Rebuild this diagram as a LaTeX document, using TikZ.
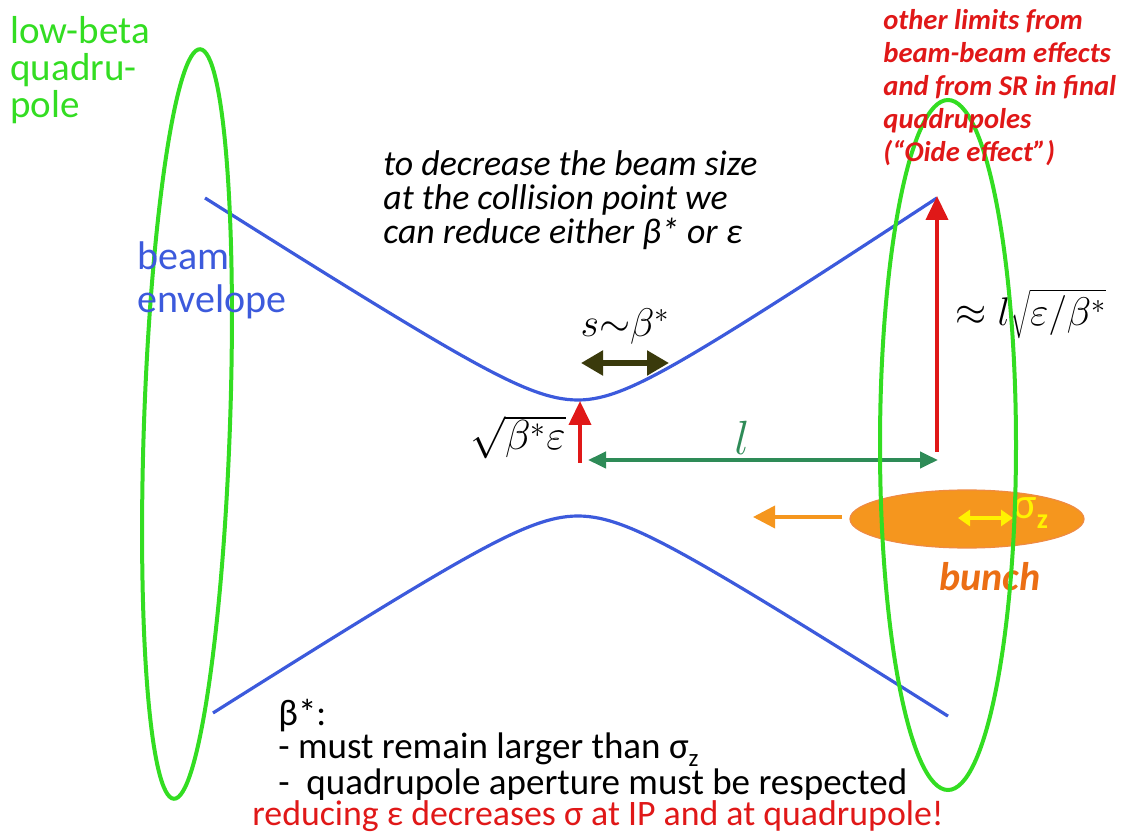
\RequirePackage{fix-cm}
\documentclass[tikz,border=0pt]{standalone}
\usepackage{fontspec}
\setmainfont{Carlito}
\usetikzlibrary{arrows.meta}
\definecolor{quadgreen}{HTML}{33DD22}
\definecolor{envblue}{HTML}{3C5ADC}
\definecolor{limred}{HTML}{E01818}
\definecolor{lgreen}{HTML}{2E8B57}
\definecolor{sizeolive}{HTML}{3A3A0C}
\definecolor{bunchorange}{HTML}{F5961E}
\definecolor{bunchdark}{HTML}{EB6E14}
\definecolor{sigyellow}{HTML}{FFF200}

\tikzset{
  quadline/.style={quadgreen, line width=2pt},
  envelope/.style={envblue, line width=1.6pt},
  redarrow/.style={-{Triangle[length=12pt,width=11pt]}, limred, line width=2pt},
  txt/.style={inner sep=0pt, anchor=north west, align=left}
}

\begin{document}
\begin{tikzpicture}[x=0.5pt, y=-0.5pt]
\useasboundingbox (0,0) rectangle (1126,834);

% bunch
\draw[fill=bunchorange, draw=bunchdark!80, line width=0.6pt] (967,519) ellipse [x radius=117, y radius=29];
\coordinate (bunchtail) at (842,517);
\coordinate (bunchhead) at (753,517);
\draw[-{Triangle[length=11pt,width=11pt]}, bunchorange, line width=1.8pt] (bunchtail) -- (bunchhead);
\coordinate (sza) at (958,518);
\coordinate (szb) at (1013,518);
\draw[{Triangle[length=6pt,width=8pt]}-{Triangle[length=6pt,width=8pt]}, sigyellow, line width=2pt] (sza) -- (szb);
\node[inner sep=0pt, anchor=west, sigyellow, font=\fontsize{22}{22}\selectfont] (sigz) at (1013,513) {σ\raisebox{-0.45ex}{\fontsize{14}{14}\selectfont\bfseries z}};
\node[inner sep=0pt, anchor=base, bunchdark, font=\fontsize{20}{22}\selectfont\bfseries\itshape] (bunch) at (990,590) {bunch};

% beam envelope
\draw[envelope] plot[domain=205:578, samples=70] (\x, {440-10*sqrt(16+(0.064*(\x-578))^2)})
  -- plot[domain=578:937, samples=70] (\x, {440-10*sqrt(16+(0.0665*(\x-578))^2)});
\draw[envelope] plot[domain=213:578, samples=70] (\x, {476+10*sqrt(16+(0.064*(\x-578))^2)})
  -- plot[domain=578:948, samples=70] (\x, {476+10*sqrt(16+(0.064*(\x-578))^2)});

% sizes at IP and at the quadrupole
\coordinate (ipbot) at (580,463);
\coordinate (iptop) at (580,401);
\draw[redarrow] (ipbot) -- (iptop);
\coordinate (qbot) at (937,452);
\coordinate (qtop) at (937,196);
\draw[redarrow] (qbot) -- (qtop);
\coordinate (lleft) at (588,460);
\coordinate (lright) at (938,460);
\draw[{Triangle[length=9pt,width=8pt]}-{Triangle[length=9pt,width=8pt]}, lgreen, line width=2pt] (lleft) -- (lright);
\coordinate (sleft) at (581,363);
\coordinate (sright) at (669,363);
\draw[{Triangle[length=11pt,width=12pt]}-{Triangle[length=11pt,width=12pt]}, sizeolive, line width=2.6pt] (sleft) -- (sright);

\node[inner sep=0pt, lgreen, font=\fontsize{24}{26}\selectfont] (lab-l) at (742,438) {$l$};
\node[inner sep=0pt, font=\fontsize{20}{22}\selectfont] (lab-s) at (625,327) {$s{\sim}\beta^{*}$};
\node[inner sep=0pt, anchor=east, font=\fontsize{21}{24}\selectfont] (lab-ip) at (566,437) {$\sqrt{\beta^{*}\varepsilon}$};
\node[inner sep=0pt, anchor=west, font=\fontsize{20}{24}\selectfont] (lab-q) at (955,314) {$\approx l\sqrt{\varepsilon/\beta^{*}}$};

% quadrupoles
\draw[quadline, rotate around={-2:(187,424)}] (187,424) ellipse [x radius=43, y radius=375];
\draw[quadline] (948,445) ellipse [x radius=68, y radius=345];

% texts
\node[txt, quadgreen, font=\fontsize{19.5}{18.5}\selectfont] (quadtxt) at (10,16) {low-beta\\quadru-\\pole};
\node[txt, envblue, font=\fontsize{20}{21.5}\selectfont] (envtxt) at (137,241) {beam\\envelope};
\node[txt, font=\fontsize{17.9}{17}\selectfont\itshape] (goal) at (383,150) {to decrease the beam size\\at the collision point we\\can reduce either β* or ε};
\node[txt, limred, font=\fontsize{14.3}{16.5}\selectfont\bfseries\itshape] (limits) at (883,9) {other limits from\\beam-beam effects\\and from SR in final\\quadrupoles\\(“Oide effect”)};
\node[txt, font=\fontsize{18.5}{16.5}\selectfont] (betatxt) at (278,699) {β*:\\- must remain larger than σ\raisebox{-0.45ex}{\fontsize{12.5}{12.5}\selectfont z}\\-\ \ quadrupole aperture must be respected};
\node[txt, limred, font=\fontsize{17.9}{16.5}\selectfont] (epstxt) at (252,800) {reducing ε decreases σ at IP and at quadrupole!};
\end{tikzpicture}
\end{document}
